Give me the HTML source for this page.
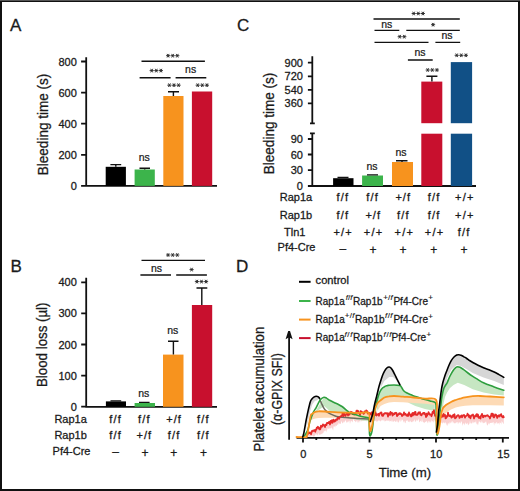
<!DOCTYPE html>
<html><head><meta charset="utf-8">
<style>
html,body{margin:0;padding:0;background:#fff;}
body{width:520px;height:491px;overflow:hidden;}
svg{display:block;}
text{font-family:"Liberation Sans",sans-serif;fill:#1a1a1a;stroke:#1a1a1a;stroke-width:0.28px;}
.pl{font-size:17px;}
.tk{font-size:11px;}
.yl{font-size:14px;}
.lb{font-size:11px;}
.lg{font-size:10.3px;}
.sp{font-size:8px;stroke-width:0.15px;}
.it{font-style:italic;}
.ns{font-size:10.5px;stroke-width:0.22px;}
.pm{font-size:12px;}
.ast{font-size:12px;stroke-width:0.2px;}
.ax{stroke:#111;stroke-width:1.8;fill:none;}
.sg{stroke:#111;stroke-width:1.4;fill:none;}
</style></head>
<body>
<svg width="520" height="491" viewBox="0 0 520 491">
<rect x="0" y="0" width="520" height="491" fill="#fff"/>
<rect x="1" y="1" width="518" height="489" fill="none" stroke="#111" stroke-width="2"/>
<line x1="0" y1="0.5" x2="520" y2="0.5" stroke="#555" stroke-width="1"/>

<text class="pl" x="10" y="31.2">A</text>
<text class="yl" transform="translate(47.5,175.2) rotate(-90)" textLength="101.5" lengthAdjust="spacingAndGlyphs">Bleeding time (s)</text>
<text class="tk" x="76.8" y="65.5" text-anchor="end">800</text>
<text class="tk" x="76.8" y="96.6" text-anchor="end">600</text>
<text class="tk" x="76.8" y="127.7" text-anchor="end">400</text>
<text class="tk" x="76.8" y="158.8" text-anchor="end">200</text>
<text class="tk" x="76.8" y="189.9" text-anchor="end">0</text>
<path class="ax" d="M86.2,57.3 V186.8 M85.3,185.9 H217 M81.1,61.5 H86.2 M81.1,92.6 H86.2 M81.1,123.7 H86.2 M81.1,154.8 H86.2 M81.1,185.9 H86.2"/>
<rect x="105.7" y="166.8" width="20.2" height="19.1" fill="#000"/>
<rect x="134.6" y="169.5" width="20.2" height="16.4" fill="#3cb44b"/>
<rect x="163.3" y="96" width="20.2" height="89.9" fill="#f7931e"/>
<rect x="191.9" y="91.5" width="20.3" height="94.4" fill="#c8102e"/>
<path class="sg" d="M115.8,166.8 V164.6 M110.4,164.6 H121.2 M144.7,169.5 V168.3 M139.5,168.3 H150 M173.4,96 V91.7 M168,91.7 H179"/>
<path class="sg" d="M141.5,61.2 H204.9 M139.6,77.8 H170.6 M175.6,77.8 H206.3"/>
<path d="M166.05,55.70H170.15M167.07,53.92L169.12,57.48M167.07,57.48L169.12,53.92M170.65,55.70H174.75M171.67,53.92L173.72,57.48M171.67,57.48L173.72,53.92M175.25,55.70H179.35M176.27,53.92L178.32,57.48M176.27,57.48L178.32,53.92" stroke="#2a2a2a" stroke-width="0.95" fill="none"/>
<path d="M149.65,70.60H153.75M150.68,68.82L152.73,72.38M150.68,72.38L152.73,68.82M154.25,70.60H158.35M155.28,68.82L157.33,72.38M155.28,72.38L157.33,68.82M158.85,70.60H162.95M159.88,68.82L161.93,72.38M159.88,72.38L161.93,68.82" stroke="#2a2a2a" stroke-width="0.95" fill="none"/>
<path d="M167.35,85.20H171.45M168.38,83.42L170.43,86.98M168.38,86.98L170.43,83.42M171.95,85.20H176.05M172.97,83.42L175.03,86.98M172.97,86.98L175.03,83.42M176.55,85.20H180.65M177.57,83.42L179.62,86.98M177.57,86.98L179.62,83.42" stroke="#2a2a2a" stroke-width="0.95" fill="none"/>
<path d="M195.65,85.20H199.75M196.68,83.42L198.73,86.98M196.68,86.98L198.73,83.42M200.25,85.20H204.35M201.28,83.42L203.33,86.98M201.28,86.98L203.33,83.42M204.85,85.20H208.95M205.88,83.42L207.93,86.98M205.88,86.98L207.93,83.42" stroke="#2a2a2a" stroke-width="0.95" fill="none"/>
<text class="ns" x="190.6" y="72.5" text-anchor="middle">ns</text>
<text class="ns" x="144.2" y="161" text-anchor="middle">ns</text>
<text class="pl" x="10.4" y="271.5">B</text>
<text class="yl" transform="translate(47.2,387.0) rotate(-90)" textLength="84.5" lengthAdjust="spacingAndGlyphs">Blood loss (µl)</text>
<text class="tk" x="76.8" y="286.3" text-anchor="end">400</text>
<text class="tk" x="76.8" y="317.4" text-anchor="end">300</text>
<text class="tk" x="76.8" y="348.5" text-anchor="end">200</text>
<text class="tk" x="76.8" y="379.6" text-anchor="end">100</text>
<text class="tk" x="76.8" y="410.7" text-anchor="end">0</text>
<path class="ax" d="M86.2,277.7 V407.6 M85.3,406.8 H217 M81.2,282.3 H86.2 M81.2,313.4 H86.2 M81.2,344.5 H86.2 M81.2,375.6 H86.2 M81.2,406.7 H86.2"/>
<rect x="105.9" y="401.4" width="20.1" height="5.4" fill="#000"/>
<rect x="134.6" y="403" width="20.4" height="3.8" fill="#3cb44b"/>
<rect x="163" y="354.6" width="20.5" height="52.2" fill="#f7931e"/>
<rect x="191.9" y="305" width="20.3" height="101.8" fill="#c8102e"/>
<path class="sg" d="M110.5,400.9 H121.2 M139,402.4 H149.6 M173.4,354.6 V341.2 M168,341.2 H178.5 M201.8,305 V288 M196.5,288 H207.3"/>
<path class="sg" d="M141.5,260.4 H205 M140.4,275 H171 M176.2,275 H206.9"/>
<path d="M166.05,255.00H170.15M167.07,253.22L169.12,256.78M167.07,256.78L169.12,253.22M170.65,255.00H174.75M171.67,253.22L173.72,256.78M171.67,256.78L173.72,253.22M175.25,255.00H179.35M176.27,253.22L178.32,256.78M176.27,256.78L178.32,253.22" stroke="#2a2a2a" stroke-width="0.95" fill="none"/>
<path d="M189.55,269.60H193.65M190.57,267.82L192.62,271.38M190.57,271.38L192.62,267.82" stroke="#2a2a2a" stroke-width="0.95" fill="none"/>
<path d="M194.85,281.60H198.95M195.88,279.82L197.93,283.38M195.88,283.38L197.93,279.82M199.45,281.60H203.55M200.47,279.82L202.53,283.38M200.47,283.38L202.53,279.82M204.05,281.60H208.15M205.07,279.82L207.12,283.38M205.07,283.38L207.12,279.82" stroke="#2a2a2a" stroke-width="0.95" fill="none"/>
<text class="ns" x="156.5" y="272" text-anchor="middle">ns</text>
<text class="ns" x="172.7" y="333.8" text-anchor="middle">ns</text>
<text class="ns" x="143.8" y="396.8" text-anchor="middle">ns</text>
<text class="lb" x="70.6" y="423" text-anchor="middle">Rap1a</text>
<text class="lb" x="70.6" y="439.2" text-anchor="middle">Rap1b</text>
<text class="lb" x="71.5" y="455.2" text-anchor="middle">Pf4-Cre</text>
<text class="lb" x="115" y="423" text-anchor="middle" textLength="11.6" lengthAdjust="spacing">f/f</text>
<text class="lb" x="143.8" y="423" text-anchor="middle" textLength="11.6" lengthAdjust="spacing">f/f</text>
<text class="lb" x="173.6" y="423" text-anchor="middle" textLength="14.6" lengthAdjust="spacing">+/f</text>
<text class="lb" x="202.7" y="423" text-anchor="middle" textLength="11.6" lengthAdjust="spacing">f/f</text>
<text class="lb" x="115" y="439.2" text-anchor="middle" textLength="11.6" lengthAdjust="spacing">f/f</text>
<text class="lb" x="143.8" y="439.2" text-anchor="middle" textLength="14.6" lengthAdjust="spacing">+/f</text>
<text class="lb" x="173.6" y="439.2" text-anchor="middle" textLength="11.6" lengthAdjust="spacing">f/f</text>
<text class="lb" x="202.7" y="439.2" text-anchor="middle" textLength="11.6" lengthAdjust="spacing">f/f</text>
<text class="pm" x="115.7" y="455.7" text-anchor="middle">–</text>
<text class="pm" x="145" y="456.8" text-anchor="middle">+</text>
<text class="pm" x="173.8" y="456.8" text-anchor="middle">+</text>
<text class="pm" x="203.4" y="456.8" text-anchor="middle">+</text>
<text class="pl" x="236.9" y="31.2">C</text>
<text class="yl" transform="translate(274.3,174.2) rotate(-90)" textLength="101.5" lengthAdjust="spacingAndGlyphs">Bleeding time (s)</text>
<text class="tk" x="302.9" y="66.7" text-anchor="end">900</text>
<text class="tk" x="302.9" y="80.4" text-anchor="end">720</text>
<text class="tk" x="302.9" y="93.9" text-anchor="end">540</text>
<text class="tk" x="302.9" y="107.4" text-anchor="end">360</text>
<text class="tk" x="302.9" y="143" text-anchor="end">90</text>
<text class="tk" x="302.9" y="158.5" text-anchor="end">60</text>
<text class="tk" x="302.9" y="174.2" text-anchor="end">30</text>
<text class="tk" x="302.9" y="190" text-anchor="end">0</text>
<path class="ax" d="M312.3,56.2 V123.3 M310,123.3 H314.8 M312.3,133.3 V186.9 M310,133.3 H314.8 M311.4,186 H476 M307.9,62.7 H312.3 M307.9,76.4 H312.3 M307.9,89.9 H312.3 M307.9,103.4 H312.3 M307.9,139 H312.3 M307.9,154.5 H312.3 M307.9,170.2 H312.3 M307.9,186 H312.3"/>
<rect x="333.1" y="178.2" width="20.4" height="7.8" fill="#000"/>
<rect x="362.1" y="175.5" width="20.9" height="10.5" fill="#3cb44b"/>
<rect x="392" y="162" width="21" height="24" fill="#f7931e"/>
<rect x="421.3" y="81.6" width="21" height="41.6" fill="#c8102e"/>
<rect x="421.3" y="133.7" width="21" height="52.3" fill="#c8102e"/>
<rect x="450.8" y="62.1" width="21.3" height="61.1" fill="#115086"/>
<rect x="450.8" y="133.7" width="21.3" height="52.3" fill="#115086"/>
<path class="sg" d="M337.5,177.4 H348.5 M367,174.9 H378 M396,160.8 H407.5 M402,162 V160.8 M431.9,81.6 V76.3 M426.4,76.3 H437.4"/>
<path class="sg" d="M373.5,19 H459.8 M374.5,30.4 H399.3 M406.3,30.4 H459.8 M374.5,42.4 H428.5 M435.4,42.4 H460.2 M407.9,60 H432.7"/>
<path d="M411.65,13.50H415.75M412.68,11.72L414.72,15.28M412.68,15.28L414.72,11.72M416.25,13.50H420.35M417.28,11.72L419.32,15.28M417.28,15.28L419.32,11.72M420.85,13.50H424.95M421.88,11.72L423.93,15.28M421.88,15.28L423.93,11.72" stroke="#2a2a2a" stroke-width="0.95" fill="none"/>
<path d="M431.05,24.70H435.15M432.08,22.92L434.12,26.48M432.08,26.48L434.12,22.92" stroke="#2a2a2a" stroke-width="0.95" fill="none"/>
<path d="M397.65,36.70H401.75M398.68,34.92L400.72,38.48M398.68,38.48L400.72,34.92M402.25,36.70H406.35M403.28,34.92L405.32,38.48M403.28,38.48L405.32,34.92" stroke="#2a2a2a" stroke-width="0.95" fill="none"/>
<path d="M425.65,70.00H429.75M426.68,68.22L428.72,71.78M426.68,71.78L428.72,68.22M430.25,70.00H434.35M431.28,68.22L433.32,71.78M431.28,71.78L433.32,68.22M434.85,70.00H438.95M435.88,68.22L437.93,71.78M435.88,71.78L437.93,68.22" stroke="#2a2a2a" stroke-width="0.95" fill="none"/>
<path d="M454.65,55.30H458.75M455.68,53.52L457.72,57.08M455.68,57.08L457.72,53.52M459.25,55.30H463.35M460.28,53.52L462.32,57.08M460.28,57.08L462.32,53.52M463.85,55.30H467.95M464.88,53.52L466.93,57.08M464.88,57.08L466.93,53.52" stroke="#2a2a2a" stroke-width="0.95" fill="none"/>
<text class="ns" x="386.8" y="28.3" text-anchor="middle">ns</text>
<text class="ns" x="447" y="38.8" text-anchor="middle">ns</text>
<text class="ns" x="420" y="56.4" text-anchor="middle">ns</text>
<text class="ns" x="372" y="169.5" text-anchor="middle">ns</text>
<text class="ns" x="401" y="156" text-anchor="middle">ns</text>
<text class="lb" x="296" y="201.4" text-anchor="middle">Rap1a</text>
<text class="lb" x="296" y="218.6" text-anchor="middle">Rap1b</text>
<text class="lb" x="294.8" y="235.5" text-anchor="middle">Tln1</text>
<text class="lb" x="296.5" y="251" text-anchor="middle">Pf4-Cre</text>
<text class="lb" x="342.3" y="201.4" text-anchor="middle" textLength="11.6" lengthAdjust="spacing">f/f</text>
<text class="lb" x="372" y="201.4" text-anchor="middle" textLength="11.6" lengthAdjust="spacing">f/f</text>
<text class="lb" x="402.7" y="201.4" text-anchor="middle" textLength="14.6" lengthAdjust="spacing">+/f</text>
<text class="lb" x="433.5" y="201.4" text-anchor="middle" textLength="11.6" lengthAdjust="spacing">f/f</text>
<text class="lb" x="464.3" y="201.4" text-anchor="middle" textLength="18.4" lengthAdjust="spacing">+/+</text>
<text class="lb" x="342.3" y="218.6" text-anchor="middle" textLength="11.6" lengthAdjust="spacing">f/f</text>
<text class="lb" x="372.7" y="218.6" text-anchor="middle" textLength="14.6" lengthAdjust="spacing">+/f</text>
<text class="lb" x="402.7" y="218.6" text-anchor="middle" textLength="11.6" lengthAdjust="spacing">f/f</text>
<text class="lb" x="433.5" y="218.6" text-anchor="middle" textLength="11.6" lengthAdjust="spacing">f/f</text>
<text class="lb" x="464.3" y="218.6" text-anchor="middle" textLength="18.4" lengthAdjust="spacing">+/+</text>
<text class="lb" x="342.6" y="235.6" text-anchor="middle" textLength="18.4" lengthAdjust="spacing">+/+</text>
<text class="lb" x="373" y="235.6" text-anchor="middle" textLength="18.4" lengthAdjust="spacing">+/+</text>
<text class="lb" x="403.7" y="235.6" text-anchor="middle" textLength="18.4" lengthAdjust="spacing">+/+</text>
<text class="lb" x="434" y="235.6" text-anchor="middle" textLength="18.4" lengthAdjust="spacing">+/+</text>
<text class="lb" x="463.6" y="235.6" text-anchor="middle" textLength="11.6" lengthAdjust="spacing">f/f</text>
<text class="pm" x="342.8" y="252.6" text-anchor="middle">–</text>
<text class="pm" x="373" y="253.5" text-anchor="middle">+</text>
<text class="pm" x="403.1" y="253.5" text-anchor="middle">+</text>
<text class="pm" x="433.8" y="253.5" text-anchor="middle">+</text>
<text class="pm" x="463.9" y="253.5" text-anchor="middle">+</text>
<text class="pl" x="236" y="271.5">D</text>
<path d="M299,281.8 H310.6" stroke="#000" stroke-width="2"/>
<path d="M299,301 H310.6" stroke="#3cb44b" stroke-width="2"/>
<path d="M299,319.6 H310.6" stroke="#f7931e" stroke-width="2"/>
<path d="M299,338.1 H310.6" stroke="#c8102e" stroke-width="2"/>
<text class="lg" x="315.6" y="283.8" textLength="33.4" lengthAdjust="spacingAndGlyphs">control</text>
<text class="lg" x="315.6" y="304.7" textLength="29.2" lengthAdjust="spacingAndGlyphs">Rap1a</text>
<text class="sp" x="345.8" y="299.9" textLength="6.6" lengthAdjust="spacing"><tspan class="it">f</tspan>/<tspan class="it">f</tspan></text>
<text class="lg" x="353.0" y="304.7" textLength="29.6" lengthAdjust="spacingAndGlyphs">Rap1b</text>
<text class="sp" x="383.2" y="299.9" textLength="9.6" lengthAdjust="spacing">+/<tspan class="it">f</tspan></text>
<text class="lg" x="393.4" y="304.7" textLength="34.6" lengthAdjust="spacingAndGlyphs">Pf4-Cre</text>
<text class="sp" x="428.3" y="300.4" font-size="9">+</text>
<text class="lg" x="315.6" y="323.1" textLength="29.2" lengthAdjust="spacingAndGlyphs">Rap1a</text>
<text class="sp" x="344.8" y="318.3" textLength="9.6" lengthAdjust="spacing">+/<tspan class="it">f</tspan></text>
<text class="lg" x="355.0" y="323.1" textLength="29.6" lengthAdjust="spacingAndGlyphs">Rap1b</text>
<text class="sp" x="385.0" y="318.3" textLength="7.6" lengthAdjust="spacing"><tspan class="it">f</tspan>/<tspan class="it">f</tspan></text>
<text class="lg" x="393.4" y="323.1" textLength="34.6" lengthAdjust="spacingAndGlyphs">Pf4-Cre</text>
<text class="sp" x="428.3" y="318.8" font-size="9">+</text>
<text class="lg" x="315.6" y="341.4" textLength="29.2" lengthAdjust="spacingAndGlyphs">Rap1a</text>
<text class="sp" x="344.4" y="336.59999999999997" textLength="8.0" lengthAdjust="spacing"><tspan class="it">f</tspan>/<tspan class="it">f</tspan></text>
<text class="lg" x="353.0" y="341.4" textLength="29.6" lengthAdjust="spacingAndGlyphs">Rap1b</text>
<text class="sp" x="383.6" y="336.59999999999997" textLength="7.8" lengthAdjust="spacing"><tspan class="it">f</tspan>/<tspan class="it">f</tspan></text>
<text class="lg" x="391.6" y="341.4" textLength="34.6" lengthAdjust="spacingAndGlyphs">Pf4-Cre</text>
<text class="sp" x="426.5" y="337.09999999999997" font-size="9">+</text>
<text class="yl" transform="translate(263.8,451.6) rotate(-90)" textLength="124.8" lengthAdjust="spacingAndGlyphs">Platelet accumulation</text>
<text class="yl" transform="translate(281.6,425.0) rotate(-90)" textLength="71.8" lengthAdjust="spacingAndGlyphs">(α-GPIX SFI)</text>
<path d="M289.1,439.8 V336" stroke="#111" stroke-width="1.8" fill="none"/>
<path d="M285.6,339.3 L288.2,331.1 L290,331.1 L292.6,339.3 L289.1,337.2 Z" fill="#111"/>
<path class="ax" d="M296.5,437.9 H509 M303.0,437.9 V442.4 M369.5,437.9 V442.4 M436.0,437.9 V442.4 M502.8,437.9 V442.4 M316.3,437.9 V440 M329.6,437.9 V440 M343.0,437.9 V440 M356.3,437.9 V440 M382.9,437.9 V440 M396.2,437.9 V440 M409.6,437.9 V440 M422.9,437.9 V440 M449.5,437.9 V440 M462.8,437.9 V440 M476.2,437.9 V440 M489.5,437.9 V440"/>
<text class="tk" x="303.2" y="457.6" text-anchor="middle">0</text>
<text class="tk" x="369.5" y="457.6" text-anchor="middle">5</text>
<text class="tk" x="436.2" y="457.6" text-anchor="middle">10</text>
<text class="tk" x="503.4" y="457.6" text-anchor="middle">15</text>
<text x="405" y="476.9" text-anchor="middle" font-size="13" textLength="52.4" lengthAdjust="spacingAndGlyphs">Time (m)</text>
<g id="curves" fill="none" stroke-linejoin="round" stroke-linecap="round">
<path d="M307.3,434.3 L307.8,434.0 L308.4,433.6 L308.9,433.3 L309.5,432.9 L310.0,432.6 L310.6,432.2 L311.1,431.9 L311.7,431.5 L312.2,431.2 L312.7,431.0 L313.2,430.8 L313.7,430.6 L314.2,430.4 L314.8,430.1 L315.3,429.9 L315.8,429.7 L316.3,429.5 L316.8,429.3 L317.4,429.1 L317.9,428.9 L318.4,428.7 L318.9,428.5 L319.5,428.3 L320.0,428.1 L320.5,427.8 L321.0,427.4 L321.5,427.1 L322.0,426.7 L322.5,426.4 L323.0,426.1 L323.5,425.7 L324.0,425.4 L324.5,425.0 L325.0,424.7 L325.5,424.4 L326.0,424.1 L326.5,423.8 L327.0,423.5 L327.5,423.2 L328.0,423.0 L328.5,422.7 L329.0,422.4 L329.5,422.1 L330.0,421.8 L330.5,421.6 L331.0,421.4 L331.5,421.2 L332.0,421.0 L332.6,420.7 L333.1,420.5 L333.6,420.3 L334.1,420.1 L334.6,419.9 L335.1,419.6 L335.6,419.4 L336.1,419.1 L336.6,418.8 L337.2,418.6 L337.7,418.3 L338.2,418.0 L338.7,417.8 L339.2,417.5 L339.8,416.9 L340.4,416.4 L340.9,415.9 L341.5,415.3 L342.0,415.1 L342.5,414.9 L343.0,414.7 L343.5,414.6 L344.0,414.4 L344.5,414.2 L345.0,414.0 L345.5,413.9 L346.0,413.8 L346.5,413.7 L347.0,413.6 L347.5,413.5 L348.0,413.4 L348.5,413.3 L349.0,413.2 L349.5,413.1 L350.0,413.0 L350.5,412.9 L351.0,412.9 L351.5,412.8 L352.0,412.8 L352.5,412.7 L353.0,412.7 L353.5,412.6 L354.0,412.6 L354.5,412.5 L355.0,412.5 L355.5,412.4 L356.0,412.4 L356.5,412.3 L357.0,412.3 L357.5,412.2 L358.0,412.2 L358.5,412.2 L359.0,412.1 L359.5,412.1 L360.0,412.0 L360.5,412.0 L361.0,412.0 L361.5,411.9 L362.0,411.9 L362.5,411.9 L363.0,411.9 L363.6,411.8 L364.1,411.8 L364.6,411.8 L365.1,411.8 L365.7,411.7 L366.2,411.7 L366.7,411.7 L367.2,411.7 L367.8,411.6 L368.3,411.6 L368.8,411.6 L369.5,413.0 L370.0,414.2 L370.5,415.5 L371.0,415.0 L371.5,414.5 L372.0,414.0 L372.5,414.0 L373.0,414.0 L373.5,413.9 L374.0,413.9 L374.5,413.9 L375.0,413.9 L375.5,413.9 L376.0,413.9 L376.5,413.8 L377.0,413.8 L377.5,413.8 L378.0,413.8 L378.5,413.8 L379.0,413.7 L379.5,413.7 L380.0,413.7 L380.5,413.7 L381.0,413.7 L381.5,413.7 L382.0,413.7 L382.5,413.7 L383.0,413.7 L383.5,413.7 L384.0,413.7 L384.5,413.7 L385.0,413.7 L385.5,413.7 L386.0,413.7 L386.5,413.7 L387.0,413.7 L387.5,413.7 L388.0,413.7 L388.5,413.7 L389.0,413.7 L389.5,413.7 L390.0,413.7 L390.5,413.7 L391.0,413.7 L391.5,413.7 L392.0,413.7 L392.5,413.7 L393.0,413.7 L393.5,413.7 L394.0,413.7 L394.5,413.7 L395.0,413.7 L395.5,413.7 L396.0,413.7 L396.5,413.7 L397.0,413.7 L397.5,413.7 L398.0,413.7 L398.5,413.7 L399.0,413.7 L399.5,413.7 L400.0,413.7 L400.5,413.7 L401.0,413.7 L401.5,413.7 L402.0,413.7 L402.5,413.7 L403.0,413.7 L403.5,413.7 L404.0,413.7 L404.5,413.7 L405.0,413.7 L405.5,413.7 L406.0,413.7 L406.5,413.7 L407.0,413.7 L407.5,413.7 L408.0,413.7 L408.5,413.7 L409.0,413.7 L409.5,413.7 L410.0,413.8 L410.5,413.8 L411.0,413.8 L411.5,413.8 L412.0,413.8 L412.5,413.8 L413.0,413.8 L413.5,413.8 L414.0,413.8 L414.5,413.8 L415.0,413.8 L415.5,413.8 L416.0,413.8 L416.5,413.8 L417.0,413.8 L417.5,413.8 L418.0,413.8 L418.5,413.8 L419.0,413.8 L419.5,413.8 L420.0,413.8 L420.5,413.8 L421.0,413.8 L421.5,413.8 L422.0,413.8 L422.5,413.8 L423.0,413.8 L423.5,413.8 L424.0,413.8 L424.5,413.8 L425.0,413.8 L425.5,413.8 L426.0,413.8 L426.5,413.8 L427.0,413.8 L427.5,413.8 L428.0,413.8 L428.5,413.8 L429.0,413.8 L429.5,413.8 L430.0,413.8 L430.5,413.8 L431.0,413.8 L431.5,413.8 L432.0,413.8 L432.5,413.8 L433.0,413.8 L433.5,413.8 L434.0,413.8 L434.5,413.8 L435.0,413.8 L435.6,414.6 L436.2,415.5 L437.0,420.5 L437.5,422.0 L438.0,423.5 L438.5,421.5 L439.0,419.5 L439.5,417.5 L440.0,416.8 L440.5,416.2 L441.0,415.5 L441.5,415.5 L442.0,415.5 L442.5,415.5 L443.0,415.5 L443.5,415.5 L444.0,415.5 L444.5,415.5 L445.0,415.5 L445.5,415.5 L446.0,415.5 L446.5,415.5 L447.0,415.5 L447.5,415.5 L448.0,415.5 L448.5,415.5 L449.0,415.5 L449.5,415.5 L450.0,415.5 L450.5,415.5 L451.0,415.5 L451.5,415.5 L452.0,415.5 L452.5,415.5 L453.0,415.5 L453.5,415.5 L454.0,415.5 L454.5,415.5 L455.0,415.5 L455.5,415.5 L456.0,415.5 L456.5,415.5 L457.0,415.5 L457.5,415.5 L458.0,415.5 L458.5,415.5 L459.0,415.5 L459.5,415.5 L460.0,415.5 L460.5,415.5 L461.0,415.5 L461.5,415.5 L462.0,415.5 L462.5,415.5 L463.0,415.5 L463.5,415.5 L464.0,415.5 L464.5,415.5 L465.0,415.5 L465.5,415.5 L466.0,415.5 L466.5,415.5 L467.0,415.5 L467.5,415.5 L468.0,415.5 L468.5,415.5 L469.0,415.5 L469.5,415.5 L470.0,415.5 L470.5,415.5 L471.0,415.5 L471.5,415.5 L472.0,415.5 L472.5,415.5 L473.0,415.5 L473.5,415.5 L474.0,415.5 L474.5,415.5 L475.0,415.5 L475.5,415.5 L476.0,415.5 L476.5,415.5 L477.0,415.5 L477.5,415.5 L478.0,415.5 L478.5,415.5 L479.0,415.5 L479.5,415.5 L480.0,415.5 L480.5,415.5 L481.0,415.5 L481.5,415.5 L482.0,415.5 L482.5,415.5 L483.0,415.5 L483.5,415.5 L484.0,415.5 L484.5,415.5 L485.0,415.5 L485.5,415.5 L486.0,415.5 L486.5,415.5 L487.0,415.5 L487.5,415.5 L488.0,415.5 L488.5,415.5 L489.0,415.5 L489.5,415.5 L490.0,415.5 L490.5,415.5 L491.0,415.5 L491.5,415.5 L492.0,415.5 L492.6,415.5 L493.1,415.5 L493.6,415.5 L494.1,415.5 L494.6,415.5 L495.1,415.5 L495.6,415.5 L496.1,415.5 L496.6,415.5 L497.2,415.5 L497.7,415.5 L498.2,415.5 L498.7,415.5 L499.2,415.5 L499.7,415.5 L500.2,415.5 L500.7,415.5 L501.2,415.5 L501.8,415.5 L502.3,415.5 L502.8,415.5 L503.3,415.5 L503.8,415.5 L503.8,423.7 L503.3,423.8 L502.8,422.4 L502.3,422.2 L501.8,420.7 L501.2,424.8 L500.7,422.4 L500.2,423.1 L499.7,422.2 L499.2,424.9 L498.7,423.1 L498.2,423.3 L497.7,424.1 L497.2,422.8 L496.6,421.7 L496.1,423.8 L495.6,423.6 L495.1,422.7 L494.6,422.9 L494.1,425.7 L493.6,422.6 L493.1,421.7 L492.6,422.9 L492.0,422.5 L491.5,423.1 L491.0,422.7 L490.5,422.9 L490.0,422.9 L489.5,424.7 L489.0,422.2 L488.5,423.8 L488.0,424.6 L487.5,425.4 L487.0,425.2 L486.5,423.0 L486.0,421.0 L485.5,422.3 L485.0,422.4 L484.5,422.9 L484.0,422.6 L483.5,422.9 L483.0,423.4 L482.5,421.2 L482.0,423.4 L481.5,420.6 L481.0,423.1 L480.5,422.4 L480.0,421.6 L479.5,421.9 L479.0,420.8 L478.5,423.0 L478.0,425.4 L477.5,424.3 L477.0,423.3 L476.5,424.5 L476.0,420.2 L475.5,422.6 L475.0,422.3 L474.5,422.6 L474.0,422.1 L473.5,423.4 L473.0,421.0 L472.5,422.6 L472.0,423.8 L471.5,423.5 L471.0,422.8 L470.5,423.8 L470.0,420.6 L469.5,423.8 L469.0,423.7 L468.5,425.1 L468.0,425.3 L467.5,422.4 L467.0,423.8 L466.5,423.6 L466.0,424.5 L465.5,422.6 L465.0,422.7 L464.5,425.5 L464.0,423.9 L463.5,422.9 L463.0,424.1 L462.5,426.0 L462.0,422.5 L461.5,421.8 L461.0,421.1 L460.5,423.8 L460.0,422.7 L459.5,422.6 L459.0,422.1 L458.5,423.0 L458.0,424.4 L457.5,421.8 L457.0,422.6 L456.5,421.9 L456.0,423.6 L455.5,422.6 L455.0,423.7 L454.5,423.3 L454.0,422.8 L453.5,422.1 L453.0,423.8 L452.5,421.3 L452.0,421.0 L451.5,422.0 L451.0,423.5 L450.5,423.1 L450.0,421.8 L449.5,422.9 L449.0,424.8 L448.5,423.3 L448.0,423.1 L447.5,425.4 L447.0,425.7 L446.5,424.5 L446.0,422.5 L445.5,422.2 L445.0,424.1 L444.5,422.6 L444.0,423.1 L443.5,421.9 L443.0,423.3 L442.5,423.8 L442.0,422.2 L441.5,423.2 L441.0,422.0 L440.5,422.6 L440.0,425.6 L439.5,424.7 L439.0,428.2 L438.5,428.4 L438.0,431.6 L437.5,430.1 L437.0,429.2 L436.2,421.2 L435.6,421.4 L435.0,421.7 L434.5,420.2 L434.0,419.5 L433.5,422.6 L433.0,422.2 L432.5,421.1 L432.0,421.1 L431.5,420.1 L431.0,423.1 L430.5,421.3 L430.0,422.9 L429.5,421.5 L429.0,421.2 L428.5,421.1 L428.0,423.6 L427.5,422.4 L427.0,421.3 L426.5,420.7 L426.0,422.2 L425.5,421.7 L425.0,421.7 L424.5,422.7 L424.0,423.3 L423.5,422.1 L423.0,422.0 L422.5,421.2 L422.0,418.0 L421.5,422.2 L421.0,421.3 L420.5,420.6 L420.0,421.8 L419.5,422.4 L419.0,420.9 L418.5,418.6 L418.0,420.3 L417.5,420.6 L417.0,420.8 L416.5,419.2 L416.0,421.7 L415.5,421.2 L415.0,422.0 L414.5,419.3 L414.0,420.1 L413.5,421.7 L413.0,420.9 L412.5,421.7 L412.0,422.5 L411.5,422.0 L411.0,422.1 L410.5,421.2 L410.0,420.3 L409.5,422.4 L409.0,421.4 L408.5,421.7 L408.0,421.8 L407.5,420.4 L407.0,419.7 L406.5,420.9 L406.0,421.1 L405.5,423.1 L405.0,423.3 L404.5,421.5 L404.0,420.8 L403.5,422.7 L403.0,420.5 L402.5,419.7 L402.0,419.4 L401.5,421.7 L401.0,418.2 L400.5,421.0 L400.0,422.3 L399.5,419.3 L399.0,421.5 L398.5,422.4 L398.0,422.6 L397.5,421.8 L397.0,419.4 L396.5,421.4 L396.0,421.7 L395.5,422.0 L395.0,420.9 L394.5,420.4 L394.0,421.7 L393.5,421.5 L393.0,421.5 L392.5,421.8 L392.0,419.2 L391.5,421.9 L391.0,420.7 L390.5,421.0 L390.0,421.4 L389.5,421.5 L389.0,419.8 L388.5,421.3 L388.0,420.5 L387.5,420.9 L387.0,420.0 L386.5,420.8 L386.0,420.7 L385.5,421.0 L385.0,421.4 L384.5,421.3 L384.0,418.7 L383.5,420.8 L383.0,420.5 L382.5,419.6 L382.0,421.3 L381.5,419.6 L381.0,421.2 L380.5,421.5 L380.0,420.5 L379.5,420.9 L379.0,420.1 L378.5,420.4 L378.0,421.1 L377.5,421.6 L377.0,421.2 L376.5,422.1 L376.0,420.1 L375.5,421.3 L375.0,420.5 L374.5,420.7 L374.0,421.3 L373.5,420.5 L373.0,421.3 L372.5,423.7 L372.0,423.0 L371.5,422.0 L371.0,422.4 L370.5,421.7 L370.0,421.6 L369.5,420.4 L368.8,421.0 L368.3,419.5 L367.8,421.6 L367.2,420.5 L366.7,419.6 L366.2,421.8 L365.7,420.7 L365.1,419.4 L364.6,420.6 L364.1,420.9 L363.6,420.4 L363.0,421.1 L362.5,420.2 L362.0,421.6 L361.5,421.3 L361.0,420.6 L360.5,419.6 L360.0,422.9 L359.5,420.9 L359.0,421.0 L358.5,421.7 L358.0,423.3 L357.5,421.8 L357.0,419.4 L356.5,421.7 L356.0,421.2 L355.5,422.4 L355.0,421.0 L354.5,420.9 L354.0,420.6 L353.5,418.8 L353.0,420.3 L352.5,422.4 L352.0,421.4 L351.5,420.9 L351.0,420.4 L350.5,422.0 L350.0,424.1 L349.5,421.0 L349.0,420.5 L348.5,422.4 L348.0,420.8 L347.5,422.8 L347.0,421.8 L346.5,423.3 L346.0,420.7 L345.5,420.3 L345.0,421.1 L344.5,422.7 L344.0,421.0 L343.5,422.2 L343.0,423.1 L342.5,423.5 L342.0,422.2 L341.5,420.7 L340.9,423.2 L340.4,424.1 L339.8,423.9 L339.2,423.2 L338.7,422.6 L338.2,424.8 L337.7,424.5 L337.2,424.7 L336.6,426.1 L336.1,425.8 L335.6,425.2 L335.1,427.8 L334.6,426.0 L334.1,426.7 L333.6,426.2 L333.1,430.7 L332.6,429.0 L332.0,427.9 L331.5,427.3 L331.0,429.0 L330.5,427.7 L330.0,428.8 L329.5,428.1 L329.0,429.1 L328.5,429.1 L328.0,427.7 L327.5,428.5 L327.0,430.4 L326.5,432.5 L326.0,429.1 L325.5,431.3 L325.0,431.0 L324.5,431.4 L324.0,430.2 L323.5,432.7 L323.0,433.0 L322.5,433.3 L322.0,434.6 L321.5,433.5 L321.0,434.5 L320.5,434.2 L320.0,434.8 L319.5,434.4 L318.9,435.6 L318.4,432.5 L317.9,434.3 L317.4,435.7 L316.8,433.9 L316.3,434.5 L315.8,434.8 L315.3,434.1 L314.8,435.9 L314.2,436.5 L313.7,436.5 L313.2,436.5 L312.7,436.1 L312.2,435.2 L311.7,436.5 L311.1,435.1 L310.6,436.5 L310.0,436.5 L309.5,436.5 L308.9,436.5 L308.4,436.5 L307.8,436.5 L307.3,436.5 Z" fill="#fad0d0" stroke="none"/>
<path d="M436.4,432.0 L437.6,424.0 L438.6,412.0 L439.6,404.2 L441.0,392.5 L442.8,382.8 L445.0,375.5 L447.1,370.0 L449.2,364.8 L451.4,360.3 L454.0,357.0 L456.7,355.0 L459.0,354.7 L461.0,355.2 L463.5,356.6 L466.4,358.2 L469.5,360.5 L472.8,362.5 L478.0,365.2 L483.5,367.8 L489.0,369.8 L494.2,372.0 L499.0,374.6 L503.8,377.4 L503.8,385.0 L494.2,381.0 L483.5,377.5 L472.8,373.0 L466.4,369.0 L461.0,366.0 L456.7,365.0 L451.4,369.5 L447.1,378.0 Z" fill="#d6d6d6" stroke="none"/>
<path d="M380.5,381.5 L382.5,375.5 L384.4,371.3 L386.8,368.0 L389.2,367.0 L391.2,368.3 L393.0,371.0 L395.0,375.0 L397.0,379.2 L399.9,384.7 L399.9,384.7 L397.0,380.5 L393.0,377.0 L389.2,377.0 L384.4,381.0 L380.5,388.0 Z" fill="#d6d6d6" stroke="none"/>
<path d="M308.2,410.4 L310.2,402.2 L311.7,399.2 L313.8,397.1 L316.3,396.2 L318.4,396.9 L319.4,398.1 L319.4,398.1 L317.2,400.2 L314.8,401.0 L312.3,404.5 L310.2,411.0 L308.2,420.5 L306.1,430.0 Z" fill="#d6d6d6" stroke="none"/>
<path d="M324.0,397.3 L326.5,398.1 L329.6,400.2 L333.6,402.2 L338.0,404.2 L342.0,406.5 L347.3,410.8 L350.4,413.0 L355.0,414.6 L359.6,416.0 L364.0,417.0 L368.8,417.7 L368.8,421.0 L359.6,420.2 L350.4,418.6 L345.0,417.2 L338.0,415.0 L333.6,413.5 L329.6,411.0 L326.5,408.0 L324.0,406.0 L322.0,407.5 L319.4,409.5 L316.3,411.5 L313.3,415.0 Z" fill="#c6e6c2" stroke="none"/>
<path d="M376.6,402.3 L378.5,395.5 L380.5,390.7 L382.5,388.0 L384.4,386.8 L386.5,385.8 L388.2,385.4 L394.0,385.0 L399.9,385.5 L402.0,388.0 L403.7,390.7 L406.5,392.8 L409.6,394.2 L412.5,395.4 L415.4,396.5 L420.0,398.0 L425.0,399.6 L430.0,401.0 L434.7,402.3 L434.7,411.0 L425.0,409.0 L415.4,406.0 L410.0,403.5 L405.0,400.5 L400.0,398.0 L395.0,397.5 L389.0,398.5 L384.4,400.0 L380.5,403.0 L376.6,412.0 Z" fill="#c6e6c2" stroke="none"/>
<path d="M442.0,396.0 L444.0,388.0 L447.1,382.8 L450.0,376.0 L453.5,370.0 L455.8,367.5 L457.8,366.7 L460.0,367.3 L462.0,368.5 L464.2,370.0 L468.0,373.0 L472.8,376.4 L478.0,379.6 L483.5,382.8 L489.0,385.0 L494.2,387.0 L499.0,388.8 L503.8,390.3 L503.8,395.6 L494.2,394.5 L483.5,392.5 L472.8,389.2 L464.2,385.0 L457.8,382.8 L453.5,385.0 L450.0,388.0 L447.1,392.5 L445.0,397.0 L442.0,410.0 Z" fill="#c6e6c2" stroke="none"/>
<path d="M310.7,415.4 L312.2,413.9 L315.3,411.9 L318.4,411.3 L325.0,411.5 L338.0,412.4 L350.0,412.7 L368.8,413.1 L368.8,418.5 L350.0,418.0 L338.0,417.7 L325.0,417.7 L318.4,418.0 L315.3,418.5 L312.2,419.5 L310.2,421.0 Z" fill="#fddab5" stroke="none"/>
<path d="M378.0,402.5 L380.5,400.4 L384.4,397.5 L389.0,396.4 L394.0,396.0 L403.0,396.6 L413.4,397.5 L425.0,398.7 L436.2,400.0 L436.2,405.0 L425.0,403.8 L413.4,403.0 L403.0,402.3 L394.0,402.0 L389.0,402.5 L384.4,404.0 L380.5,406.0 L378.0,410.0 Z" fill="#fddab5" stroke="none"/>
<path d="M442.8,408.4 L445.0,405.8 L447.1,404.2 L451.0,402.0 L455.7,400.0 L460.0,398.6 L465.0,397.4 L472.8,396.2 L480.0,396.0 L490.0,396.5 L503.8,397.3 L503.8,405.4 L490.0,405.2 L480.0,405.2 L472.8,405.3 L465.0,405.8 L460.0,406.5 L455.7,407.5 L451.0,409.5 L447.1,412.0 L445.0,414.0 L442.8,418.0 Z" fill="#fddab5" stroke="none"/>
<path d="M319.4,398.1 C319.7,399.0 320.7,401.7 321.4,403.2 C322.1,404.7 322.7,406.1 323.4,407.3 C324.1,408.5 324.6,409.5 325.5,410.4 C326.4,411.3 327.3,412.1 328.5,412.9 C329.7,413.6 331.2,414.3 332.6,414.9 C334.0,415.5 334.6,416.1 336.7,416.5 C338.8,416.9 341.9,417.2 345.0,417.5 C348.1,417.8 351.0,418.1 355.0,418.3 C359.0,418.6 366.5,418.9 368.8,419.0" stroke="#6b6b5e" stroke-width="1.5"/>
<path d="M307.3,434.5 L307.8,434.1 L308.4,433.2 L308.9,432.4 L309.5,433.1 L310.0,432.5 L310.6,433.5 L311.1,434.4 L311.7,431.6 L312.2,430.6 L312.7,431.4 L313.2,431.0 L313.7,430.8 L314.2,429.9 L314.8,431.1 L315.3,431.9 L315.8,429.3 L316.3,429.7 L316.8,427.5 L317.4,427.6 L317.9,426.7 L318.4,428.5 L318.9,427.6 L319.5,429.5 L320.0,429.4 L320.5,428.7 L321.0,425.5 L321.5,426.9 L322.0,426.7 L322.5,426.3 L323.0,424.3 L323.5,425.4 L324.0,425.0 L324.5,425.2 L325.0,427.1 L325.5,424.6 L326.0,424.8 L326.5,425.1 L327.0,422.8 L327.5,422.9 L328.0,423.1 L328.5,423.1 L329.0,421.8 L329.5,423.3 L330.0,424.5 L330.5,420.9 L331.0,422.9 L331.5,421.4 L332.0,420.1 L332.6,422.8 L333.1,421.5 L333.6,419.6 L334.1,421.2 L334.6,421.7 L335.1,420.5 L335.6,420.9 L336.1,419.3 L336.6,419.5 L337.2,419.9 L337.7,417.5 L338.2,418.6 L338.7,418.1 L339.2,418.8 L339.8,416.8 L340.4,416.6 L340.9,416.0 L341.5,416.2 L342.0,416.2 L342.5,413.4 L343.0,414.2 L343.5,416.1 L344.0,413.3 L344.5,414.9 L345.0,414.9 L345.5,415.9 L346.0,414.7 L346.5,413.2 L347.0,413.0 L347.5,413.3 L348.0,415.6 L348.5,413.8 L349.0,414.0 L349.5,414.6 L350.0,413.7 L350.5,413.1 L351.0,411.7 L351.5,412.6 L352.0,412.2 L352.5,414.2 L353.0,414.1 L353.5,413.6 L354.0,414.5 L354.5,413.2 L355.0,414.3 L355.5,412.7 L356.0,412.9 L356.5,410.7 L357.0,412.6 L357.5,410.7 L358.0,410.8 L358.5,412.9 L359.0,412.3 L359.5,413.2 L360.0,415.1 L360.5,411.2 L361.0,411.1 L361.5,412.0 L362.0,412.5 L362.5,412.2 L363.0,412.6 L363.6,413.8 L364.1,413.5 L364.6,411.4 L365.1,412.0 L365.7,411.7 L366.2,410.4 L366.7,412.0 L367.2,411.1 L367.8,413.6 L368.3,413.0 L368.8,412.9 L369.5,413.1 L370.0,414.4 L370.5,413.2 L371.0,413.6 L371.5,414.9 L372.0,412.0 L372.5,415.7 L373.0,413.2 L373.5,416.0 L374.0,414.0 L374.5,415.3 L375.0,414.2 L375.5,412.0 L376.0,415.1 L376.5,415.5 L377.0,414.2 L377.5,414.4 L378.0,414.8 L378.5,413.8 L379.0,415.8 L379.5,413.5 L380.0,413.7 L380.5,412.6 L381.0,412.9 L381.5,412.5 L382.0,415.7 L382.5,414.6 L383.0,416.0 L383.5,414.8 L384.0,413.7 L384.5,413.6 L385.0,413.0 L385.5,413.5 L386.0,413.3 L386.5,413.7 L387.0,413.0 L387.5,413.9 L388.0,416.7 L388.5,413.9 L389.0,413.1 L389.5,414.2 L390.0,415.1 L390.5,411.9 L391.0,413.6 L391.5,413.5 L392.0,412.7 L392.5,415.7 L393.0,414.8 L393.5,414.6 L394.0,413.3 L394.5,414.2 L395.0,412.9 L395.5,413.4 L396.0,412.7 L396.5,413.0 L397.0,416.2 L397.5,414.3 L398.0,415.1 L398.5,414.4 L399.0,413.5 L399.5,413.1 L400.0,414.2 L400.5,413.3 L401.0,413.9 L401.5,414.5 L402.0,416.1 L402.5,415.7 L403.0,415.1 L403.5,413.7 L404.0,412.3 L404.5,414.6 L405.0,414.6 L405.5,413.7 L406.0,414.8 L406.5,415.5 L407.0,415.8 L407.5,415.9 L408.0,414.1 L408.5,415.8 L409.0,412.4 L409.5,414.5 L410.0,414.2 L410.5,414.9 L411.0,416.5 L411.5,416.4 L412.0,413.7 L412.5,413.0 L413.0,415.4 L413.5,412.9 L414.0,413.7 L414.5,414.5 L415.0,411.9 L415.5,411.8 L416.0,414.9 L416.5,415.0 L417.0,414.7 L417.5,414.8 L418.0,413.4 L418.5,412.3 L419.0,413.5 L419.5,412.6 L420.0,412.1 L420.5,414.9 L421.0,414.7 L421.5,415.4 L422.0,413.9 L422.5,413.9 L423.0,413.1 L423.5,412.8 L424.0,413.8 L424.5,412.8 L425.0,414.4 L425.5,414.8 L426.0,417.1 L426.5,413.5 L427.0,415.9 L427.5,414.4 L428.0,414.1 L428.5,412.1 L429.0,413.1 L429.5,414.6 L430.0,414.1 L430.5,414.7 L431.0,414.6 L431.5,416.3 L432.0,414.8 L432.5,411.9 L433.0,413.2 L433.5,411.5 L434.0,410.1 L434.5,413.3 L435.0,415.8 L435.6,415.7 L436.2,415.4 L437.0,420.3 L437.5,423.7 L438.0,423.7 L438.5,421.4 L439.0,419.3 L439.5,417.8 L440.0,418.4 L440.5,417.8 L441.0,416.9 L441.5,415.4 L442.0,416.8 L442.5,415.0 L443.0,416.6 L443.5,413.9 L444.0,415.3 L444.5,415.9 L445.0,414.8 L445.5,418.5 L446.0,418.3 L446.5,416.0 L447.0,416.9 L447.5,416.0 L448.0,412.5 L448.5,415.6 L449.0,415.5 L449.5,416.1 L450.0,415.2 L450.5,416.4 L451.0,416.5 L451.5,417.7 L452.0,416.3 L452.5,415.5 L453.0,417.0 L453.5,414.8 L454.0,415.3 L454.5,414.2 L455.0,418.3 L455.5,417.8 L456.0,417.6 L456.5,417.0 L457.0,415.9 L457.5,415.7 L458.0,415.0 L458.5,415.2 L459.0,415.9 L459.5,418.0 L460.0,417.2 L460.5,416.6 L461.0,415.8 L461.5,415.4 L462.0,417.4 L462.5,415.9 L463.0,415.4 L463.5,415.2 L464.0,414.8 L464.5,416.4 L465.0,417.6 L465.5,416.2 L466.0,416.1 L466.5,415.7 L467.0,415.6 L467.5,413.6 L468.0,415.1 L468.5,414.8 L469.0,417.1 L469.5,415.7 L470.0,417.3 L470.5,418.3 L471.0,415.9 L471.5,415.1 L472.0,415.6 L472.5,415.3 L473.0,414.4 L473.5,416.4 L474.0,418.5 L474.5,416.3 L475.0,416.5 L475.5,415.3 L476.0,416.4 L476.5,414.3 L477.0,414.1 L477.5,416.7 L478.0,414.6 L478.5,417.2 L479.0,418.1 L479.5,417.0 L480.0,417.3 L480.5,418.5 L481.0,415.7 L481.5,414.9 L482.0,413.8 L482.5,415.4 L483.0,417.3 L483.5,417.2 L484.0,415.5 L484.5,415.8 L485.0,416.0 L485.5,416.5 L486.0,415.5 L486.5,415.7 L487.0,415.6 L487.5,415.1 L488.0,415.8 L488.5,416.5 L489.0,416.5 L489.5,417.2 L490.0,418.5 L490.5,416.7 L491.0,415.7 L491.5,413.5 L492.0,415.8 L492.6,413.5 L493.1,414.5 L493.6,417.4 L494.1,417.5 L494.6,416.4 L495.1,414.4 L495.6,415.4 L496.1,414.7 L496.6,416.0 L497.2,418.0 L497.7,416.1 L498.2,415.5 L498.7,415.3 L499.2,416.6 L499.7,416.2 L500.2,414.7 L500.7,415.7 L501.2,414.1 L501.8,416.6 L502.3,416.8 L502.8,417.3 L503.3,416.0 L503.8,417.3" stroke="#e42a2a" stroke-width="1.7"/>
<path d="M302.5,437.0 C302.8,436.9 303.5,437.2 304.1,436.6 C304.7,436.0 305.3,434.8 306.0,433.5 C306.7,432.2 307.5,430.9 308.2,428.7 C308.9,426.5 309.3,423.2 310.2,420.5 C311.1,417.8 312.3,414.6 313.3,412.4 C314.3,410.2 315.3,409.2 316.3,407.3 C317.3,405.4 318.5,402.6 319.4,401.2 C320.2,399.8 320.6,399.3 321.4,398.7 C322.2,398.1 323.1,397.4 324.0,397.3 C324.9,397.2 325.6,397.6 326.5,398.1 C327.4,398.6 328.4,399.5 329.6,400.2 C330.8,400.9 332.2,401.5 333.6,402.2 C335.0,402.9 336.6,403.5 338.0,404.2 C339.4,404.9 340.4,405.4 342.0,406.5 C343.6,407.6 345.9,409.7 347.3,410.8 C348.7,411.9 349.1,412.4 350.4,413.0 C351.7,413.6 353.5,414.1 355.0,414.6 C356.5,415.1 358.1,415.6 359.6,416.0 C361.1,416.4 362.5,416.7 364.0,417.0 C365.5,417.3 368.0,417.6 368.8,417.7" stroke="#2e9e3e" stroke-width="1.6"/>
<path d="M368.8,417.7 C368.9,419.1 369.2,423.2 369.3,426.0 C369.4,428.8 369.4,432.9 369.6,434.5 C369.8,436.1 370.1,436.1 370.5,435.5 C370.9,434.9 371.5,433.6 372.0,431.0 C372.5,428.4 373.0,423.5 373.5,420.0 C374.0,416.5 374.3,412.9 374.8,410.0 C375.3,407.1 376.0,404.7 376.6,402.3 C377.2,399.9 377.9,397.4 378.5,395.5 C379.1,393.6 379.8,391.9 380.5,390.7 C381.2,389.4 381.9,388.6 382.5,388.0 C383.1,387.4 383.7,387.2 384.4,386.8 C385.1,386.4 385.9,386.0 386.5,385.8 C387.1,385.6 386.9,385.5 388.2,385.4 C389.4,385.3 392.1,385.0 394.0,385.0 C395.9,385.0 398.6,385.0 399.9,385.5 C401.2,386.0 401.4,387.1 402.0,388.0 C402.6,388.9 402.9,389.9 403.7,390.7 C404.4,391.5 405.5,392.2 406.5,392.8 C407.5,393.4 408.6,393.8 409.6,394.2 C410.6,394.6 411.5,395.0 412.5,395.4 C413.5,395.8 414.1,396.1 415.4,396.5 C416.6,396.9 418.4,397.5 420.0,398.0 C421.6,398.5 423.3,399.1 425.0,399.6 C426.7,400.1 428.4,400.6 430.0,401.0 C431.6,401.4 433.7,401.8 434.7,402.3 C435.7,402.8 435.8,403.7 436.0,404.0" stroke="#2e9e3e" stroke-width="1.6"/>
<path d="M436.0,404.0 C436.1,406.7 436.3,415.0 436.4,420.0 C436.5,425.0 436.6,431.8 436.8,434.0 C437.0,436.2 437.4,435.0 437.8,433.0 C438.2,431.0 438.6,426.2 439.0,422.0 C439.4,417.8 440.0,412.3 440.5,408.0 C441.0,403.7 441.4,399.3 442.0,396.0 C442.6,392.7 443.1,390.2 444.0,388.0 C444.9,385.8 446.1,384.8 447.1,382.8 C448.1,380.8 448.9,378.1 450.0,376.0 C451.1,373.9 452.5,371.4 453.5,370.0 C454.5,368.6 455.1,368.1 455.8,367.5 C456.5,366.9 457.1,366.7 457.8,366.7 C458.5,366.7 459.3,367.0 460.0,367.3 C460.7,367.6 461.3,368.1 462.0,368.5 C462.7,368.9 463.2,369.2 464.2,370.0 C465.2,370.8 466.6,371.9 468.0,373.0 C469.4,374.1 471.1,375.3 472.8,376.4 C474.5,377.5 476.2,378.5 478.0,379.6 C479.8,380.7 481.7,381.9 483.5,382.8 C485.3,383.7 487.2,384.3 489.0,385.0 C490.8,385.7 492.5,386.4 494.2,387.0 C495.9,387.6 497.4,388.2 499.0,388.8 C500.6,389.4 503.0,390.1 503.8,390.3" stroke="#2e9e3e" stroke-width="1.6"/>
<path d="M296.5,437.0 C298.1,437.0 304.4,437.2 306.1,437.0 C307.8,436.8 306.6,436.2 306.9,435.5 C307.2,434.8 307.3,434.7 307.7,432.7 C308.1,430.7 308.7,426.5 309.2,423.6 C309.7,420.7 310.2,417.0 310.7,415.4 C311.2,413.8 311.4,414.5 312.2,413.9 C313.0,413.3 314.3,412.3 315.3,411.9 C316.3,411.5 316.8,411.4 318.4,411.3 C320.0,411.2 321.7,411.3 325.0,411.5 C328.3,411.7 333.8,412.2 338.0,412.4 C342.2,412.6 346.3,412.6 350.0,412.7 C353.7,412.8 356.9,412.8 360.0,412.9 C363.1,413.0 367.2,411.1 368.8,413.1 C370.4,415.1 369.2,422.1 369.4,425.0 C369.6,427.9 369.7,430.0 370.0,430.8 C370.3,431.6 370.6,431.1 371.0,430.0 C371.4,428.9 371.9,426.7 372.4,424.0 C372.9,421.3 373.4,417.0 374.0,414.0 C374.6,411.0 375.3,407.9 376.0,406.0 C376.7,404.1 377.2,403.4 378.0,402.5 C378.8,401.6 379.4,401.2 380.5,400.4 C381.6,399.6 383.0,398.2 384.4,397.5 C385.8,396.8 387.4,396.6 389.0,396.4 C390.6,396.1 391.7,396.0 394.0,396.0 C396.3,396.0 399.8,396.4 403.0,396.6 C406.2,396.9 409.7,397.1 413.4,397.5 C417.1,397.9 421.2,398.3 425.0,398.7 C428.8,399.1 434.3,396.8 436.2,400.0 C438.1,403.2 436.4,412.7 436.5,418.0 C436.6,423.3 436.8,429.5 437.0,432.0 C437.2,434.5 437.6,434.0 438.0,433.0 C438.4,432.0 439.0,429.0 439.5,426.0 C440.0,423.0 440.4,417.9 441.0,415.0 C441.6,412.1 442.1,409.9 442.8,408.4 C443.5,406.9 444.3,406.5 445.0,405.8 C445.7,405.1 446.1,404.8 447.1,404.2 C448.1,403.6 449.6,402.7 451.0,402.0 C452.4,401.3 454.2,400.6 455.7,400.0 C457.2,399.4 458.4,399.0 460.0,398.6 C461.6,398.2 462.9,397.8 465.0,397.4 C467.1,397.0 470.3,396.4 472.8,396.2 C475.3,396.0 477.1,395.9 480.0,396.0 C482.9,396.1 486.0,396.3 490.0,396.5 C494.0,396.7 501.5,397.2 503.8,397.3" stroke="#f7931e" stroke-width="1.8"/>
<path d="M302.7,437.0 C302.9,436.5 303.3,435.1 303.6,434.0 C303.9,432.9 303.9,432.9 304.3,430.7 C304.7,428.4 305.5,423.9 306.1,420.5 C306.8,417.1 307.5,413.4 308.2,410.4 C308.9,407.3 309.6,404.1 310.2,402.2 C310.8,400.3 311.1,400.0 311.7,399.2 C312.3,398.4 313.0,397.6 313.8,397.1 C314.6,396.6 315.5,396.2 316.3,396.2 C317.1,396.2 317.9,396.6 318.4,396.9 C318.9,397.2 319.2,397.9 319.4,398.1" stroke="#000" stroke-width="1.6"/>
<path d="M370.3,421.5 C370.5,421.0 370.9,419.8 371.3,418.5 C371.7,417.2 372.2,416.2 372.7,414.0 C373.2,411.8 373.9,407.9 374.5,405.0 C375.1,402.1 375.9,399.2 376.6,396.5 C377.3,393.8 377.9,391.0 378.5,388.5 C379.1,386.0 379.8,383.7 380.5,381.5 C381.2,379.3 381.9,377.2 382.5,375.5 C383.1,373.8 383.7,372.6 384.4,371.3 C385.1,370.1 386.0,368.7 386.8,368.0 C387.6,367.3 388.5,366.9 389.2,367.0 C389.9,367.1 390.6,367.6 391.2,368.3 C391.8,369.0 392.4,369.9 393.0,371.0 C393.6,372.1 394.3,373.6 395.0,375.0 C395.7,376.4 396.2,377.6 397.0,379.2 C397.8,380.8 399.4,383.8 399.9,384.7" stroke="#000" stroke-width="1.6"/>
<path d="M436.4,432.0 C436.6,430.7 437.2,427.3 437.6,424.0 C438.0,420.7 438.3,415.3 438.6,412.0 C438.9,408.7 439.2,407.4 439.6,404.2 C440.0,400.9 440.5,396.1 441.0,392.5 C441.5,388.9 442.1,385.6 442.8,382.8 C443.5,380.0 444.3,377.6 445.0,375.5 C445.7,373.4 446.4,371.8 447.1,370.0 C447.8,368.2 448.5,366.4 449.2,364.8 C449.9,363.2 450.6,361.6 451.4,360.3 C452.2,359.0 453.1,357.9 454.0,357.0 C454.9,356.1 455.9,355.4 456.7,355.0 C457.5,354.6 458.3,354.7 459.0,354.7 C459.7,354.7 460.2,354.9 461.0,355.2 C461.8,355.5 462.6,356.1 463.5,356.6 C464.4,357.1 465.4,357.6 466.4,358.2 C467.4,358.8 468.4,359.8 469.5,360.5 C470.6,361.2 471.4,361.7 472.8,362.5 C474.2,363.3 476.2,364.3 478.0,365.2 C479.8,366.1 481.7,367.0 483.5,367.8 C485.3,368.6 487.2,369.1 489.0,369.8 C490.8,370.5 492.5,371.2 494.2,372.0 C495.9,372.8 497.4,373.7 499.0,374.6 C500.6,375.5 503.0,376.9 503.8,377.4" stroke="#000" stroke-width="1.6"/>
</g>

</svg>
</body></html>
